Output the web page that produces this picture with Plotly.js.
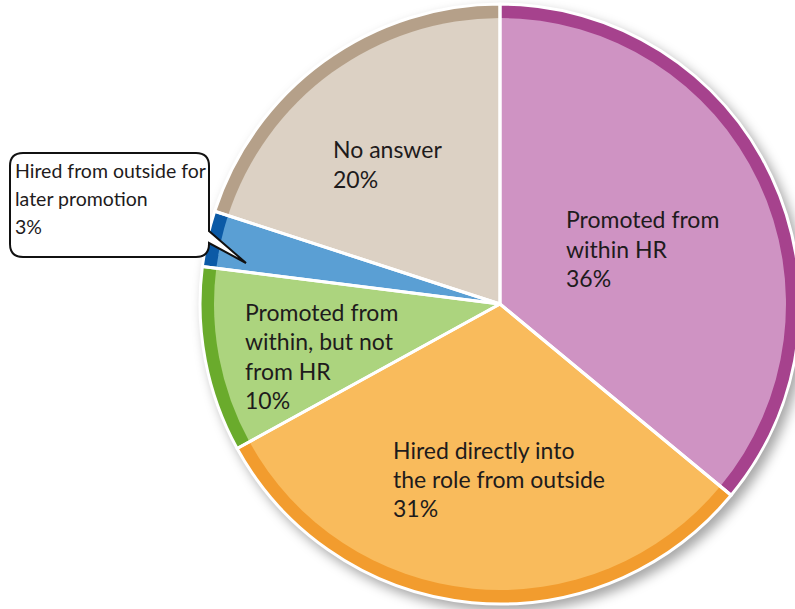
<!DOCTYPE html>
<html>
<head>
<meta charset="utf-8">
<script src="https://cdn.plot.ly/plotly-3.0.1.min.js"></script>
<style>
html,body{margin:0;padding:0;background:#ffffff;overflow:hidden;width:795px;height:609px;}
#chart{width:810px;height:609px;}
#chart .main-svg:first-of-type{filter:drop-shadow(5px 6px 6px rgba(0,0,0,0.35));}
</style>
</head>
<body>
<div id="chart"></div>
<script>
// ---- data ----
const categories = [
  'Promoted from within HR',
  'Hired directly into the role from outside',
  'Promoted from within, but not from HR',
  'Hired from outside for later promotion',
  'No answer'
];
const labelText = [
  'Promoted from<br>within HR',
  'Hired directly into<br>the role from outside',
  'Promoted from<br>within, but not<br>from HR',
  'Hired from outside for<br>later promotion',
  'No answer'
];
const values = [36, 31, 10, 3, 20];

// ---- styles ----
const rimColors   = ['#a6428d', '#f29c2e', '#6aab2c', '#0b5aa6', '#b5a089'];
const innerColors = ['#cf93c3', '#f9bb5c', '#acd47e', '#5a9fd4', '#dcd1c4'];
// label anchor: left x, centre y of first line, line spacing (page pixels)
const labelPos = [[564, 219, 29.5], [391, 449.5, 29], [243, 312, 29.3], [13, 170, 28], [331, 149, 30]];
const labelSize = [23, 23, 23, 19.5, 23];

const W = 810, H = 609;
const cx = 500, cy = 304, R = 300, RIM = 14;
const px = x => x / W;
const py = y => 1 - y / H;
function dom(r){ return {x:[px(cx - r), px(cx + r)], y:[py(cy + r), py(cy - r)]}; }

const base = {type:'pie', values: values, labels: categories, sort:false,
  direction:'clockwise', rotation:0, textinfo:'none', hoverinfo:'label+percent', showlegend:false};

const traces = [
  Object.assign({}, base, {domain: dom(R), marker:{colors: rimColors, line:{width:0}}}),
  Object.assign({}, base, {domain: dom(R - RIM), marker:{colors: innerColors, line:{width:0}}}),
  Object.assign({}, base, {domain: dom(R), marker:{colors: values.map(()=> 'rgba(0,0,0,0)'), line:{color:'#ffffff', width:3}}})
];

const annotations = [];
labelText.forEach((t, i) => {
  const lines = (t + '<br>' + values[i] + '%').split('<br>');
  const [lx, ly, sp] = labelPos[i];
  lines.forEach((ln, k) => {
    annotations.push({
      text: ln, xref:'paper', yref:'paper', x: px(lx), y: py(ly + k * sp),
      xanchor:'left', yanchor:'middle', align:'left', showarrow:false,
      font:{family:'Lato, "Open Sans", sans-serif', size: labelSize[i], color:'#1e1b1c'}
    });
  });
});

// callout box path (page pixels)
const L = 10, T = 153, Rr = 209, B = 257, cr = 13;
const pts = [
  ['M', L + cr, T], ['L', Rr - cr, T], ['Q', Rr, T, Rr, T + cr], ['L', Rr, 231],
  ['L', 246, 263], ['L', Rr, 243], ['L', Rr, B - cr], ['Q', Rr, B, Rr - cr, B],
  ['L', L + cr, B], ['Q', L, B, L, B - cr], ['L', L, T + cr], ['Q', L, T, L + cr, T]
];
const pathStr = pts.map(p => {
  let s = p[0];
  for (let k = 1; k < p.length; k += 2) s += ' ' + px(p[k]).toFixed(5) + ',' + py(p[k+1]).toFixed(5);
  return s;
}).join(' ') + ' Z';

const layout = {
  width: W, height: H,
  margin:{l:0, r:0, t:0, b:0},
  paper_bgcolor:'rgba(0,0,0,0)', plot_bgcolor:'rgba(0,0,0,0)',
  annotations: annotations,
  shapes:[{type:'path', xref:'paper', yref:'paper', path: pathStr,
    fillcolor:'#ffffff', line:{color:'#111111', width:2}, layer:'above'}]
};

Plotly.newPlot('chart', traces, layout, {displayModeBar:false, staticPlot:true});
</script>
</body>
</html>
